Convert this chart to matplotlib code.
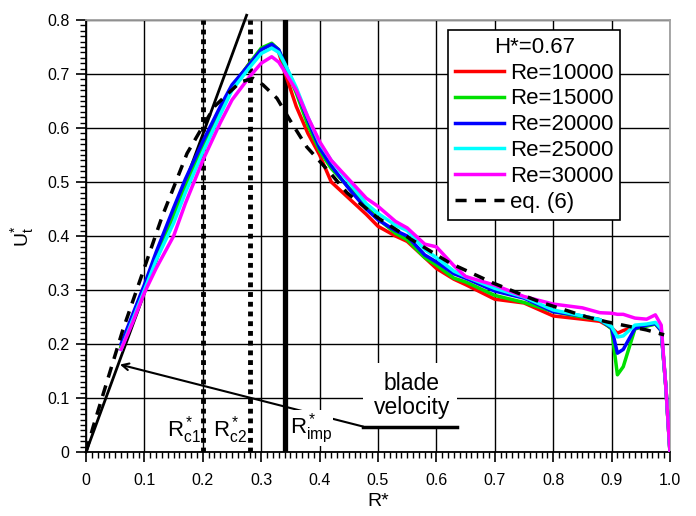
import matplotlib
matplotlib.use("Agg")
import matplotlib.pyplot as plt
from matplotlib.ticker import MultipleLocator
from matplotlib.patches import Rectangle

plt.rcParams['font.family'] = ['Liberation Sans', 'DejaVu Sans']
plt.rcParams['mathtext.fontset'] = 'custom'
plt.rcParams['mathtext.rm'] = 'Liberation Sans'
plt.rcParams['mathtext.it'] = 'Liberation Sans:italic'

# ---------------- data ----------------
r = [0.06, 0.08, 0.1, 0.12, 0.15, 0.17, 0.2, 0.23, 0.25, 0.28, 0.3, 0.318, 0.33, 0.34,
     0.36, 0.38, 0.4, 0.42, 0.45, 0.48, 0.5, 0.53, 0.55, 0.58, 0.6, 0.63, 0.65, 0.7,
     0.75, 0.8, 0.85, 0.88, 0.9, 0.91, 0.92, 0.94, 0.96, 0.975, 0.985, 0.993, 1.0]

u_re10000 = [0.195, 0.25, 0.30, 0.36, 0.44, 0.49, 0.565, 0.635, 0.675, 0.72, 0.745, 0.755, 0.74, 0.705,
             0.64, 0.59, 0.55, 0.50, 0.47, 0.44, 0.418, 0.40, 0.39, 0.36, 0.34, 0.32, 0.31, 0.283,
             0.276, 0.252, 0.246, 0.242, 0.23, 0.22, 0.225, 0.232, 0.235, 0.237, 0.225, 0.12, 0.0]
u_re15000 = [0.195, 0.25, 0.30, 0.36, 0.44, 0.49, 0.565, 0.635, 0.675, 0.72, 0.748, 0.757, 0.745, 0.715,
             0.665, 0.605, 0.558, 0.525, 0.49, 0.455, 0.432, 0.405, 0.393, 0.36, 0.346, 0.322, 0.315, 0.29,
             0.277, 0.26, 0.25, 0.245, 0.228, 0.143, 0.158, 0.228, 0.233, 0.237, 0.225, 0.12, 0.0]
u_re20000 = [0.2, 0.255, 0.31, 0.37, 0.452, 0.505, 0.575, 0.64, 0.68, 0.718, 0.745, 0.755, 0.745, 0.72,
             0.67, 0.615, 0.563, 0.53, 0.488, 0.45, 0.43, 0.41, 0.40, 0.365, 0.352, 0.33, 0.322, 0.298,
             0.285, 0.26, 0.252, 0.245, 0.23, 0.183, 0.19, 0.229, 0.235, 0.238, 0.225, 0.12, 0.0]
u_re25000 = [0.19, 0.245, 0.30, 0.355, 0.424, 0.48, 0.555, 0.625, 0.67, 0.712, 0.738, 0.748, 0.74, 0.72,
             0.675, 0.62, 0.572, 0.54, 0.50, 0.46, 0.442, 0.42, 0.41, 0.375, 0.36, 0.335, 0.325, 0.303,
             0.287, 0.263, 0.252, 0.245, 0.232, 0.213, 0.215, 0.235, 0.237, 0.24, 0.228, 0.12, 0.0]
u_re30000 = [0.19, 0.24, 0.295, 0.34, 0.40, 0.46, 0.54, 0.61, 0.652, 0.695, 0.72, 0.732, 0.722, 0.705,
             0.67, 0.62, 0.575, 0.54, 0.505, 0.47, 0.455, 0.427, 0.415, 0.385, 0.38, 0.345, 0.325, 0.309,
             0.288, 0.274, 0.267, 0.258, 0.257, 0.255, 0.255, 0.248, 0.246, 0.254, 0.235, 0.12, 0.0]

r_eq = [0, 0.012, 0.063, 0.13, 0.173, 0.22, 0.264, 0.286, 0.303, 0.327, 0.349, 0.378, 0.418,
        0.447, 0.498, 0.555, 0.623, 0.697, 0.777, 0.858, 0.892, 0.96, 0.99]
u_eq = [0, 0.046, 0.226, 0.435, 0.553, 0.64, 0.685, 0.692, 0.68, 0.655, 0.615, 0.565, 0.517,
        0.48, 0.435, 0.395, 0.35, 0.313, 0.278, 0.25, 0.241, 0.226, 0.217]

series_labels = ['Re=10000', 'Re=15000', 'Re=20000', 'Re=25000', 'Re=30000']
series_colors = ['#ff0000', '#00e000', '#0000ff', '#00ffff', '#ff00ff']
series_values = [u_re10000, u_re15000, u_re20000, u_re25000, u_re30000]

r_c1 = 0.2
r_c2 = 0.28
r_imp = 0.34
blade_r = [0, 0.275]

x_ticks = [0, 0.1, 0.2, 0.3, 0.4, 0.5, 0.6, 0.7, 0.8, 0.9, 1.0]
x_tick_labels = ['0', '0.1', '0.2', '0.3', '0.4', '0.5', '0.6', '0.7', '0.8', '0.9', '1.0']
y_ticks = [0, 0.1, 0.2, 0.3, 0.4, 0.5, 0.6, 0.7, 0.8]
y_tick_labels = ['0', '0.1', '0.2', '0.3', '0.4', '0.5', '0.6', '0.7', '0.8']

# ---------------- figure ----------------
fig = plt.figure(figsize=(6.96, 5.16), dpi=100)
ax = fig.add_axes([0.1236, 0.124, 0.839, 0.8372])
ax.set_xlim(0, 1.0)
ax.set_ylim(0, 0.8)

ax.set_xticks(x_ticks)
ax.set_xticklabels(x_tick_labels)
ax.set_yticks(y_ticks)
ax.set_yticklabels(y_tick_labels)
ax.xaxis.set_minor_locator(MultipleLocator(0.01))
ax.yaxis.set_minor_locator(MultipleLocator(0.01))
ax.tick_params(which='major', direction='out', length=7, width=1.2, labelsize=11.5, colors='black')
ax.tick_params(which='minor', direction='out', length=4.5, width=1.0)
ax.tick_params(axis='x', pad=8)
ax.tick_params(axis='y', pad=5)
ax.grid(True, which='major', color='black', linewidth=1.0, zorder=0)
ax.set_axisbelow(True)
for s in ['left', 'bottom']:
    ax.spines[s].set_linewidth(1.3)
for s in ['top', 'right']:
    ax.spines[s].set_color('#a0a0a0')
    ax.spines[s].set_linewidth(1.3)

# blade velocity line
slope = 1.0 / r_imp
ax.plot(blade_r, [v * slope for v in blade_r], color='black', lw=2.0, clip_on=False, zorder=3)

# vertical marker lines
ax.axvline(r_c1, color='black', lw=3.5, linestyle=(0, (1, 1)), zorder=3)
ax.axvline(r_c2, color='black', lw=3.5, linestyle=(0, (1, 1)), zorder=3)
ax.axvline(r_imp, color='black', lw=3.8, zorder=3)

# data curves
lines = []
for vals, col, lab in zip(series_values, series_colors, series_labels):
    ln, = ax.plot(r, vals, color=col, lw=2.5, label=lab, zorder=4)
    lines.append(ln)
ln_eq, = ax.plot(r_eq, u_eq, color='black', lw=2.5, linestyle=(0, (3.2, 2.4)), label='eq. (6)', zorder=5)
lines.append(ln_eq)

# blade velocity annotation
ax.add_patch(Rectangle((0.475, 0.047), 0.16, 0.118, facecolor='white', edgecolor='none', zorder=2))
ax.plot([0.475, 0.635], [0.047, 0.047], color='black', lw=2.5, zorder=3)
ax.annotate('', xy=(0.058, 0.162), xytext=(0.475, 0.047),
            arrowprops=dict(arrowstyle='->', color='black', lw=1.5, shrinkA=0, shrinkB=0,
                            mutation_scale=12), zorder=3)
ax.text(0.558, 0.104, 'blade\nvelocity', ha='center', va='center', fontsize=16.5,
        linespacing=1.05, zorder=3)

# R labels
ax.text(0.197, 0.012, r'$\mathregular{R^*_{c1}}$', ha='right', va='bottom', fontsize=16, zorder=3)
ax.text(0.276, 0.012, r'$\mathregular{R^*_{c2}}$', ha='right', va='bottom', fontsize=16, zorder=3)
ax.text(0.349, 0.012, r'$\mathregular{R^*_{imp}}$', ha='left', va='bottom', fontsize=16, zorder=3,
        bbox=dict(facecolor='white', edgecolor='none', pad=0.5))

ax.set_xlabel('R*', fontsize=14, labelpad=4)
ax.set_ylabel(r'$\mathregular{U^{*}_t}$', fontsize=14, labelpad=8)

leg = ax.legend(handles=lines, title='H*=0.67', loc='upper left',
                bbox_to_anchor=(0.62, 0.977), fontsize=16, title_fontsize=16,
                frameon=True, fancybox=False, framealpha=1, edgecolor='black',
                handlelength=2.2, handletextpad=0.3, labelspacing=0.22,
                borderpad=0.3, borderaxespad=0)
leg.get_frame().set_linewidth(1.2)
leg.set_zorder(10)

fig.savefig('out.png', dpi=100)
